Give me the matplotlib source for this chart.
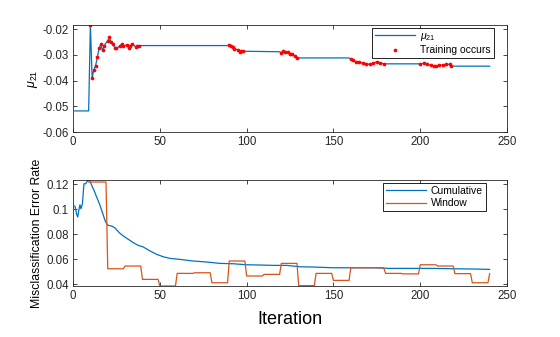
import matplotlib
matplotlib.use('Agg')
import matplotlib.pyplot as plt
import numpy as np

plt.rcParams['font.family'] = ['Liberation Sans', 'DejaVu Sans']
plt.rcParams['mathtext.fontset'] = 'custom'
plt.rcParams['mathtext.it'] = 'Liberation Sans:italic'
plt.rcParams['mathtext.rm'] = 'Liberation Sans'

# top panel: mu_21 over iterations, red dots where training happened
train_iter = [10, 11, 12, 13, 14, 15, 16, 17, 18, 20, 21, 22, 23, 24, 25, 27, 28, 29, 31, 32, 33, 34, 36, 37, 38,
              90, 91, 92, 93, 95, 96, 97, 98,
              120, 121, 122, 124, 125, 126, 128, 129,
              160, 161, 163, 165, 167, 169, 171, 173, 175, 177, 179,
              200, 202, 204, 206, 208, 209, 211, 213, 215, 217, 218]
train_val = [-0.0184, -0.0390, -0.0358, -0.0342, -0.0310, -0.0275, -0.0259, -0.0283, -0.0264, -0.0245,
             -0.0232, -0.0252, -0.0259, -0.0272, -0.0275, -0.0265, -0.0259, -0.0265, -0.0262, -0.0272,
             -0.0265, -0.0258, -0.0268, -0.0265, -0.0264,
             -0.0260, -0.0267, -0.0270, -0.0277, -0.0280, -0.0288, -0.0287, -0.0286,
             -0.0292, -0.0286, -0.0288, -0.0289, -0.0296, -0.0295, -0.0305, -0.0312,
             -0.0318, -0.0322, -0.0327, -0.0328, -0.0333, -0.0335, -0.0337, -0.0333, -0.0327, -0.0331, -0.0335,
             -0.0335, -0.0333, -0.0337, -0.0340, -0.0344, -0.0344, -0.0340, -0.0340, -0.0337, -0.0337, -0.0344]

# mu_21 line: value held between training blocks
mu_iter = [1, 9] + train_iter[:25] + [89] + train_iter[25:33] + [119] + train_iter[33:41] + [159] \
          + train_iter[41:52] + [199] + train_iter[52:] + [240]
mu_val = [-0.0518, -0.0518] + train_val[:25] + [-0.0264] + train_val[25:33] + [-0.0288] + train_val[33:41] \
         + [-0.0312] + train_val[41:52] + [-0.0335] + train_val[52:] + [-0.0344]

# bottom panel: cumulative error rate
cum_iter = [1, 1.5, 2, 2.7, 3.5, 4, 4.6, 5.4, 6.3, 7.3, 7.9, 8.8, 9.8, 10.8, 12.1, 13.6, 15.2, 16.5, 17.5,
            18.4, 19.4, 20.3, 22.3, 24.2, 26.1, 27.1, 29, 31.9, 34.8, 37.6, 40.5, 44.4, 48.2, 52, 55.9,
            61.6, 69.3, 77, 84.7, 92.4, 100, 107.8, 115.5, 123, 130.8, 138.4, 149.9, 161.4, 172.9,
            182.5, 196, 207.5, 219, 230.5, 240]
cum_rate = [0.1027, 0.1005, 0.0965, 0.0939, 0.1005, 0.1037, 0.1005, 0.1045, 0.1205, 0.1205, 0.1219, 0.1235,
            0.1224, 0.1192, 0.1152, 0.1099, 0.1045, 0.0992, 0.0952, 0.0912, 0.0885, 0.0872, 0.0867, 0.0851,
            0.0822, 0.0808, 0.0787, 0.0760, 0.0733, 0.0712, 0.0699, 0.0667, 0.0640, 0.0621, 0.0608,
            0.0600, 0.0587, 0.0579, 0.0568, 0.0565, 0.0557, 0.0555, 0.0552, 0.0552, 0.0541, 0.0539,
            0.0533, 0.0533, 0.0533, 0.0528, 0.0528, 0.0528, 0.0525, 0.0523, 0.0520]

# window error rate, one value per block of 10 iterations (first block starts at 9)
win_block_start = [9, 20, 30, 40, 50, 60, 70, 80, 90, 100, 110, 120, 130, 140, 150, 160, 170,
                   180, 190, 200, 210, 220, 230, 240]
win_block_val = [0.1219, 0.0525, 0.0547, 0.0440, 0.0387, 0.0488, 0.0493, 0.0413, 0.0587, 0.0467,
                 0.0480, 0.0568, 0.0390, 0.0488, 0.0432, 0.0533, 0.0533, 0.0488, 0.0484, 0.0557,
                 0.0547, 0.0486, 0.0413, 0.0486]
win_len = np.diff(win_block_start + [241])
win_iter = np.arange(win_block_start[0], 241)
win_rate = np.repeat(win_block_val, win_len)

blue = '#0072BD'
orange = '#D95319'
axcol = '#262626'

fig = plt.figure(figsize=(5.6, 3.37), dpi=100)
ax1 = fig.add_axes([0.1304, 0.6083, 0.775, 0.3175])
ax2 = fig.add_axes([0.1304, 0.1513, 0.775, 0.3145])

ax1.plot(mu_iter, mu_val, color=blue, lw=0.9, label=r'$\mu_{21}$')
ax1.plot(train_iter, train_val, '.', color='red', ms=3.3, label='Training occurs')
ax1.set_xlim(0, 250)
ax1.set_ylim(-0.06, max(train_val))
ax1.set_yticks([-0.06, -0.05, -0.04, -0.03, -0.02])
ax1.set_yticklabels(['-0.06', '-0.05', '-0.04', '-0.03', '-0.02'])
ax1.set_ylabel(r'$\mu_{21}$', fontsize=9)
ax1.yaxis.set_label_coords(-0.076, 0.5)
ax1.legend(loc='upper right', bbox_to_anchor=(0.970, 0.972), fontsize=7.5, fancybox=False,
           edgecolor='black', framealpha=1, handlelength=3.8, borderaxespad=0, borderpad=0.3,
           labelspacing=0.2, handletextpad=0.5)

ax2.plot(cum_iter, cum_rate, color=blue, lw=0.9, label='Cumulative')
ax2.plot(win_iter, win_rate, color=orange, lw=0.9, label='Window')
ax2.set_xlim(0, 250)
ax2.set_ylim(min(win_block_val), max(cum_rate))
ax2.set_yticks([0.04, 0.06, 0.08, 0.1, 0.12])
ax2.set_yticklabels(['0.04', '0.06', '0.08', '0.1', '0.12'])
ax2.set_ylabel('Misclassification Error Rate', fontsize=8.8)
ax2.yaxis.set_label_coords(-0.069, 0.5)
ax2.set_xlabel('Iteration', fontsize=13, labelpad=6)
ax2.legend(loc='upper right', bbox_to_anchor=(0.9516, 0.972), fontsize=7.5, fancybox=False,
           edgecolor='black', framealpha=1, handlelength=3.8, borderaxespad=0, borderpad=0.3,
           labelspacing=0.2, handletextpad=0.5)

for ax in (ax1, ax2):
    ax.set_xticks([0, 50, 100, 150, 200, 250])
    ax.tick_params(direction='in', length=3.2, width=0.6, top=True, right=True,
                   labelsize=8.3, colors=axcol, pad=3)
    for s in ax.spines.values():
        s.set_linewidth(0.6)
        s.set_color(axcol)
    ax.get_legend().get_frame().set_linewidth(0.6)

fig.savefig('out.png', dpi=100)
